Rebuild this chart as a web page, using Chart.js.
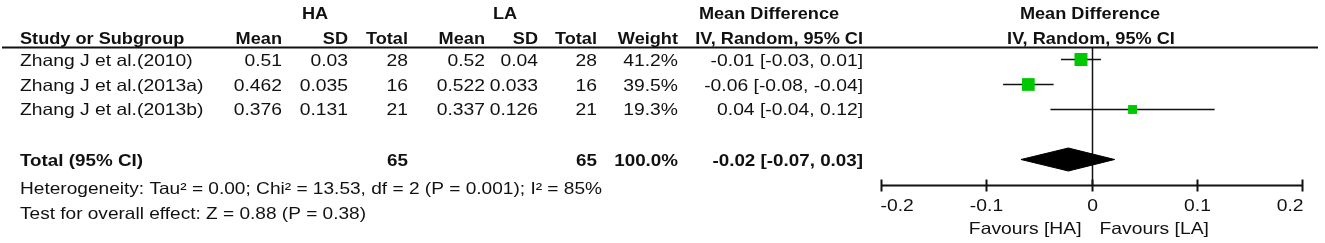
<!DOCTYPE html>
<html>
<head>
<meta charset="utf-8">
<script src="https://cdn.jsdelivr.net/npm/chart.js@4"></script>
<style>
  html, body { margin: 0; padding: 0; background: #fff; }
  #forest { display: block; }
</style>
</head>
<body>
<canvas id="forest" width="1325" height="243"></canvas>
<script>
// study table
const studies = ["Zhang J et al.(2010)", "Zhang J et al.(2013a)", "Zhang J et al.(2013b)"];
const haMean = ["0.51", "0.462", "0.376"];
const haSD = ["0.03", "0.035", "0.131"];
const haTotal = [28, 16, 21];
const laMean = ["0.52", "0.522", "0.337"];
const laSD = ["0.04", "0.033", "0.126"];
const laTotal = [28, 16, 21];
const weights = [41.2, 39.5, 19.3];
const ciText = ["-0.01 [-0.03, 0.01]", "-0.06 [-0.08, -0.04]", "0.04 [-0.04, 0.12]"];

// plotted effects
const md = [-0.01, -0.06, 0.039];
const ciLow = [-0.029, -0.084, -0.039];
const ciHigh = [0.009, -0.036, 0.117];

// pooled
const totalMd = -0.022;
const totalLow = -0.067;
const totalHigh = 0.022;
const totalText = "-0.02 [-0.07, 0.03]";
const heterogeneity = "Heterogeneity: Tau\u00b2 = 0.00; Chi\u00b2 = 13.53, df = 2 (P = 0.001); I\u00b2 = 85%";
const overallTest = "Test for overall effect: Z = 0.88 (P = 0.38)";

const xTicks = [-0.2, -0.1, 0, 0.1, 0.2];
const xTickLabels = ["-0.2", "-0.1", "0", "0.1", "0.2"];

const FS = 16.5;
const FAMILY = '"Liberation Sans", Arial, sans-serif';
const INK = "#111";
const GREEN = "#00c800";

function txt(ctx, s, x, y, align, bold, sx) {
  ctx.save();
  ctx.font = (bold ? "bold " : "") + FS + "px " + FAMILY;
  const w = ctx.measureText(s).width * sx;
  const x0 = align === "right" ? x - w : align === "center" ? x - w / 2 : x;
  ctx.translate(x0, y);
  ctx.scale(sx, 1);
  ctx.textAlign = "left";
  ctx.textBaseline = "alphabetic";
  ctx.fillStyle = INK;
  ctx.fillText(s, 0, 0);
  ctx.restore();
}

// squeeze/stretch a string to a given width
function fit(ctx, s, x, y, width, bold) {
  ctx.save();
  ctx.font = (bold ? "bold " : "") + FS + "px " + FAMILY;
  const sx = width / ctx.measureText(s).width;
  ctx.restore();
  txt(ctx, s, x, y, "left", bold, sx);
}

function line(ctx, x1, y1, x2, y2, w) {
  ctx.save();
  ctx.strokeStyle = INK;
  ctx.lineWidth = w;
  ctx.beginPath();
  ctx.moveTo(x1, y1);
  ctx.lineTo(x2, y2);
  ctx.stroke();
  ctx.restore();
}

const R = 1.17; // regular stretch
const B = 1.1;  // bold stretch
const T = 1.14; // total row

const tablePlugin = {
  id: "table",
  beforeDatasetsDraw(chart) {
    const ctx = chart.ctx;
    const xs = chart.scales.x;
    const area = chart.chartArea;
    const x0 = Math.round(xs.getPixelForValue(0)) + 0.5;
    line(ctx, x0, area.top, x0, area.bottom, 1.5);
  },
  afterDraw(chart) {
    const ctx = chart.ctx;
    const xs = chart.scales.x;
    const area = chart.chartArea;

    // header
    txt(ctx, "HA", 315, 19, "center", true, B);
    txt(ctx, "LA", 505, 19, "center", true, B);
    txt(ctx, "Mean Difference", 769, 19, "center", true, B);
    txt(ctx, "Mean Difference", 1090, 19, "center", true, B);
    txt(ctx, "Study or Subgroup", 20, 44, "left", true, B);
    txt(ctx, "Mean", 282, 44, "right", true, B);
    txt(ctx, "SD", 348, 44, "right", true, B);
    txt(ctx, "Total", 408, 44, "right", true, B);
    txt(ctx, "Mean", 485, 44, "right", true, B);
    txt(ctx, "SD", 538, 44, "right", true, B);
    txt(ctx, "Total", 597, 44, "right", true, B);
    txt(ctx, "Weight", 678, 44, "right", true, B);
    txt(ctx, "IV, Random, 95% CI", 863, 44, "right", true, B);
    txt(ctx, "IV, Random, 95% CI", 1091, 44, "center", true, B);
    line(ctx, 2, 47.5, 1318, 47.5, 2);

    // study rows
    const ys = [66, 91, 115];
    studies.forEach((s, i) => {
      const y = ys[i];
      txt(ctx, s, 20, y, "left", false, R);
      txt(ctx, haMean[i], 282, y, "right", false, R);
      txt(ctx, haSD[i], 348, y, "right", false, R);
      txt(ctx, String(haTotal[i]), 408, y, "right", false, R);
      txt(ctx, laMean[i], 485, y, "right", false, R);
      txt(ctx, laSD[i], 538, y, "right", false, R);
      txt(ctx, String(laTotal[i]), 597, y, "right", false, R);
      txt(ctx, weights[i].toFixed(1) + "%", 678, y, "right", false, R);
      txt(ctx, ciText[i], 863, y, "right", false, R);
    });

    // total
    const nHA = haTotal.reduce((a, b) => a + b, 0);
    const nLA = laTotal.reduce((a, b) => a + b, 0);
    const wSum = weights.reduce((a, b) => a + b, 0);
    txt(ctx, "Total (95% CI)", 20, 165.5, "left", true, T);
    txt(ctx, String(nHA), 408, 165.5, "right", true, T);
    txt(ctx, String(nLA), 597, 165.5, "right", true, T);
    txt(ctx, wSum.toFixed(1) + "%", 678, 165.5, "right", true, T);
    txt(ctx, totalText, 863, 165.5, "right", true, T);
    fit(ctx, heterogeneity, 20, 194, 582, false);
    fit(ctx, overallTest, 20, 218.5, 346, false);

    // x axis
    const yAx = area.bottom + 0.5;
    line(ctx, xs.getPixelForValue(xTicks[0]), yAx, xs.getPixelForValue(xTicks[xTicks.length - 1]), yAx, 2);
    xTicks.forEach((v, i) => {
      const px = Math.round(xs.getPixelForValue(v)) + 0.5;
      line(ctx, px, yAx - 6, px, yAx + 6, 2);
      const al = i === 0 ? "left" : i === xTicks.length - 1 ? "right" : "center";
      const tx = i === 0 ? px - 1 : i === xTicks.length - 1 ? px + 1 : px;
      txt(ctx, xTickLabels[i], tx, 211, al, false, R);
    });
    const zx = xs.getPixelForValue(0);
    txt(ctx, "Favours [HA]", zx - 10, 233.5, "right", false, R);
    txt(ctx, "Favours [LA]", zx + 8, 233.5, "left", false, R);
  }
};

const rowY = [1, 2, 3];
const totalRow = 5;
const diamondHalf = 0.46;

const datasets = [
  {
    label: "effects",
    data: md.map((v, i) => ({ x: v, y: rowY[i] })),
    pointStyle: "rect",
    pointRadius: weights.map(w => 1.43 * Math.sqrt(w)),
    backgroundColor: GREEN,
    borderWidth: 0,
    order: 0
  }
];
md.forEach((v, i) => {
  datasets.push({
    label: "ci" + i,
    data: [{ x: ciLow[i], y: rowY[i] }, { x: ciHigh[i], y: rowY[i] }],
    showLine: true,
    borderColor: INK,
    borderWidth: 1.6,
    pointRadius: 0,
    order: 1
  });
});
datasets.push({
  label: "pooled",
  data: [
    { x: totalLow, y: totalRow },
    { x: totalMd, y: totalRow - diamondHalf },
    { x: totalHigh, y: totalRow },
    { x: totalMd, y: totalRow + diamondHalf },
    { x: totalLow, y: totalRow }
  ],
  showLine: true,
  fill: "shape",
  backgroundColor: "#000",
  borderColor: "#000",
  borderWidth: 1,
  pointRadius: 0,
  order: 1
});

document.addEventListener("DOMContentLoaded", function () {
  const ctx = document.getElementById("forest").getContext("2d");
  new Chart(ctx, {
    type: "scatter",
    data: { datasets: datasets },
    options: {
      responsive: false,
      animation: false,
      clip: false,
      layout: { padding: { left: 881, right: 23, top: 47, bottom: 58 } },
      plugins: { legend: { display: false }, tooltip: { enabled: false } },
      scales: {
        x: { type: "linear", min: -0.2, max: 0.2, display: false },
        y: { type: "linear", min: 0.5, max: 6.02, reverse: true, display: false }
      }
    },
    plugins: [tablePlugin]
  });
});
</script>
</body>
</html>
